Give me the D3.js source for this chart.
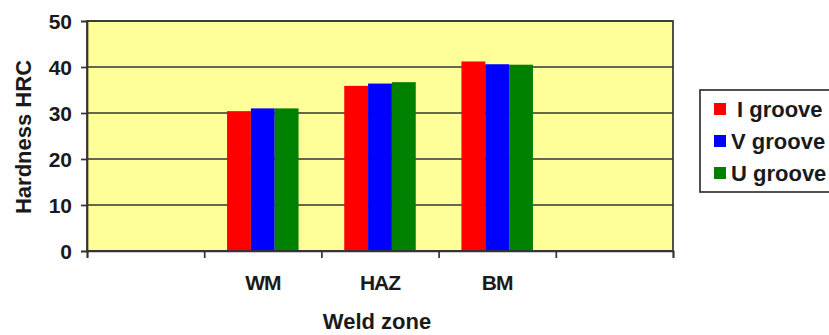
<!DOCTYPE html>
<html><head><meta charset="utf-8">
<script src="https://cdn.jsdelivr.net/npm/d3@7"></script>
<style>
html,body{margin:0;padding:0;background:#fff;}
svg text{font-family:"Liberation Sans",Arial,sans-serif;font-weight:bold;fill:#1a1a1a;}
</style></head>
<body><svg id="c" width="829" height="335"></svg>
<script>
const categories = ["", "WM", "HAZ", "BM", " "];
const seriesNames = ["I groove", "V groove", "U groove"];
const seriesColors = ["#ff0000", "#0000ff", "#008000"];
const iGroove = [null, 30.4, 35.9, 41.2, null];
const vGroove = [null, 31.0, 36.4, 40.6, null];
const uGroove = [null, 31.0, 36.7, 40.5, null];
const yTicks = [0, 10, 20, 30, 40, 50];
const xTitle = "Weld zone";
const yTitle = "Hardness HRC";

const series = [iGroove, vGroove, uGroove];
const svg = d3.select("#c");
const L = 87, R = 673, T = 21, B = 251;

const x = d3.scaleBand().domain(d3.range(categories.length)).range([L, R]).paddingInner(0.39).paddingOuter(0.195);
const xs = d3.scaleBand().domain(d3.range(series.length)).range([0, x.bandwidth()]);
const y = d3.scaleLinear().domain([0, 50]).range([B, T]);
const xEdges = d3.scaleLinear().domain([0, categories.length]).range([L, R]);

svg.append("rect").attr("x", L).attr("y", T).attr("width", R - L).attr("height", B - T).attr("fill", "#ffff99");

// gridlines
svg.append("g").selectAll("line").data(yTicks).join("line")
  .attr("x1", L).attr("x2", R).attr("y1", d => y(d)).attr("y2", d => y(d))
  .attr("stroke", "#333").attr("stroke-width", 1.7);

// bars
const groups = svg.append("g").selectAll("g").data(series).join("g").attr("fill", (d, i) => seriesColors[i]);
groups.each(function(vals, si) {
  d3.select(this).selectAll("rect").data(vals.map((v, ci) => ({v, ci})).filter(d => d.v != null)).join("rect")
    .attr("x", d => x(d.ci) + xs(si))
    .attr("width", xs.bandwidth())
    .attr("y", d => y(d.v))
    .attr("height", d => B - y(d.v));
});

// plot border
svg.append("rect").attr("x", L).attr("y", T).attr("width", R - L).attr("height", B - T)
  .attr("fill", "none").attr("stroke", "#333").attr("stroke-width", 1.7);

// y axis
const yAxis = svg.append("g").attr("transform", `translate(${L},0)`)
  .call(d3.axisLeft(y).tickValues(yTicks).tickSize(6).tickPadding(9).tickFormat(d3.format("d")));
yAxis.select(".domain").attr("stroke", "#333").attr("stroke-width", 1.7);
yAxis.selectAll(".tick line").attr("stroke", "#333").attr("stroke-width", 1.7);
yAxis.selectAll("text").style("font-size", "21px").attr("fill", "#1a1a1a").attr("dy", "0.36em");

// x axis ticks at band edges
const xAxis = svg.append("g").attr("transform", `translate(0,${B})`)
  .call(d3.axisBottom(xEdges).tickValues(d3.range(categories.length + 1)).tickSize(7).tickFormat(""));
xAxis.select(".domain").attr("stroke", "#333").attr("stroke-width", 1.7);
xAxis.selectAll(".tick line").attr("stroke", "#333").attr("stroke-width", 1.7);

svg.append("g").selectAll("text").data(categories).join("text")
  .attr("x", (d, i) => x(i) + x.bandwidth() / 2).attr("y", 290)
  .attr("text-anchor", "middle").style("font-size", "21px").attr("letter-spacing", "-1")
  .text(d => d.trim());

svg.append("text").attr("x", 377).attr("y", 329).attr("text-anchor", "middle")
  .style("font-size", "22px").text(xTitle);
svg.append("text").attr("transform", "translate(31,137) rotate(-90)").attr("text-anchor", "middle")
  .style("font-size", "22px").text(yTitle);

// legend
const lg = svg.append("g");
lg.append("rect").attr("x", 700).attr("y", 90).attr("width", 140).attr("height", 102)
  .attr("fill", "#fff").attr("stroke", "#333").attr("stroke-width", 1.7);
const items = lg.selectAll("g").data(seriesNames).join("g")
  .attr("transform", (d, i) => `translate(0,${109 + i * 32})`);
items.append("rect").attr("x", 714).attr("y", -6).attr("width", 12).attr("height", 12).attr("fill", (d, i) => seriesColors[i]);
items.append("text").attr("x", (d, i) => i === 0 ? 737 : 731).attr("y", 7.5).style("font-size", "22px").text(d => d);
</script></body></html>
